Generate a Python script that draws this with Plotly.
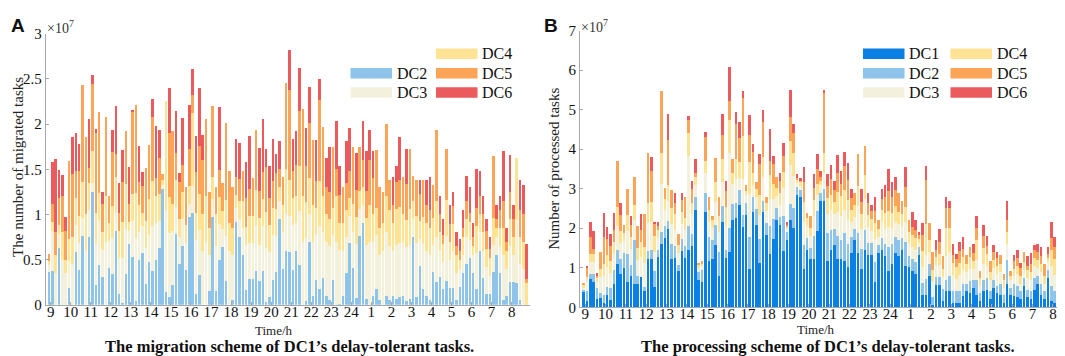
import plotly.graph_objects as go

# ---------------- data (values in units of 1e7 tasks) ----------------
hour_labels = ["9", "10", "11", "12", "13", "14", "15", "16", "17", "18", "19", "20",
               "21", "22", "23", "24", "1", "2", "3", "4", "5", "6", "7", "8"]
slots = list(range(1, 145))          # 144 ten-minute slots, 6 per hour
series_names = ["DC1", "DC2", "DC3", "DC4", "DC5", "DC6"]
series_colors = ["#0a7fe4", "#8fc4ea", "#f3f1dc", "#fee394", "#fca457", "#eb5a5c"]

# ----- Panel A: migration scheme (DC2..DC6) -----
A_DC2 = [0.36, 0.37, 0.00, 0.63, 0.00, 0.00, 0.18, 0.00, 0.58, 0.38, 0.76, 0.00,
         0.75, 1.25, 0.22, 0.44, 0.31, 0.00, 0.41, 0.34, 0.82, 0.12, 0.02, 0.34,
         0.67, 0.53, 0.04, 0.50, 0.57, 0.23, 0.47, 0.37, 0.50, 0.63, 1.28, 0.14,
         0.09, 0.22, 0.78, 0.45, 0.65, 0.38, 0.97, 1.02, 0.12, 0.33, 0.00, 0.00,
         0.15, 0.97, 0.15, 0.49, 0.64, 0.26, 0.00, 0.05, 0.92, 0.75, 0.55, 0.16,
         0.28, 0.28, 0.37, 0.26, 0.37, 0.03, 0.08, 0.27, 0.36, 0.95, 0.40, 0.60,
         0.58, 0.38, 0.60, 0.44, 0.00, 0.04, 0.70, 0.10, 0.27, 0.17, 0.30, 0.10,
         0.05, 0.27, 0.00, 0.01, 0.10, 0.35, 0.68, 0.41, 0.07, 0.76, 0.90, 0.06,
         0.00, 0.10, 0.17, 0.05, 0.00, 0.10, 0.05, 0.10, 0.06, 0.08, 0.10, 0.04,
         0.06, 0.75, 0.08, 0.43, 0.17, 0.10, 0.05, 0.36, 0.25, 0.31, 0.17, 0.26,
         0.19, 0.19, 0.05, 0.20, 0.35, 0.45, 0.52, 0.35, 0.17, 0.60, 0.30, 0.12,
         0.12, 0.36, 0.55, 0.35, 0.05, 0.10, 0.25, 0.25, 0.24, 0.05, 0.00, 0.00]
A_DC3 = [0.08, 0.45, 0.35, 0.15, 0.50, 0.35, 0.30, 0.45, 0.30, 0.30, 0.20, 0.60,
         0.30, 0.10, 0.45, 0.50, 0.30, 0.70, 0.30, 0.40, 0.20, 0.40, 0.50, 0.50,
         0.15, 0.40, 0.70, 0.30, 0.30, 0.40, 0.30, 0.50, 0.40, 0.30, 0.05, 0.90,
         0.70, 0.60, 0.30, 0.30, 0.30, 0.30, 0.15, 0.30, 0.60, 0.50, 0.60, 0.70,
         0.40, 0.20, 0.50, 0.40, 0.20, 0.50, 0.60, 0.50, 0.15, 0.20, 0.30, 0.50,
         0.40, 0.40, 0.50, 0.40, 0.50, 0.60, 0.50, 0.50, 0.40, 0.20, 0.40, 0.40,
         0.40, 0.50, 0.30, 0.60, 0.70, 0.70, 0.30, 0.60, 0.50, 0.70, 0.50, 0.60,
         0.60, 0.50, 0.70, 0.60, 0.50, 0.40, 0.30, 0.40, 0.60, 0.30, 0.20, 0.60,
         0.70, 0.60, 0.60, 0.50, 0.60, 0.70, 0.60, 0.50, 0.60, 0.60, 0.60, 0.60,
         0.60, 0.20, 0.60, 0.30, 0.50, 0.50, 0.50, 0.30, 0.50, 0.30, 0.30, 0.50,
         0.30, 0.40, 0.30, 0.20, 0.20, 0.30, 0.20, 0.20, 0.40, 0.20, 0.30, 0.30,
         0.20, 0.30, 0.20, 0.30, 0.50, 0.30, 0.40, 0.30, 0.70, 0.40, 0.40, 0.00]
A_DC4 = [0.04, 0.10, 0.20, 0.10, 0.30, 0.15, 0.25, 0.30, 0.30, 0.30, 0.40, 0.40,
         0.30, 0.35, 0.35, 0.30, 0.20, 0.50, 0.20, 0.35, 0.40, 0.30, 0.40, 0.50,
         0.10, 0.30, 0.50, 0.30, 0.15, 0.30, 0.40, 0.50, 0.30, 0.30, 0.05, 1.22,
         0.40, 0.30, 0.30, 0.20, 0.30, 0.20, 0.20, 0.80, 0.30, 0.40, 0.40, 0.50,
         0.30, 0.25, 0.35, 0.30, 0.20, 0.40, 0.30, 0.30, 0.15, 0.20, 0.30, 0.20,
         0.30, 0.30, 0.40, 0.30, 0.30, 0.40, 0.30, 0.30, 0.30, 0.15, 0.30, 0.50,
         0.40, 0.30, 0.30, 0.50, 0.50, 0.40, 0.40, 0.40, 0.30, 0.50, 0.40, 0.30,
         0.30, 0.30, 0.50, 0.30, 0.30, 0.30, 0.20, 0.30, 0.30, 0.20, 0.20, 0.30,
         0.40, 0.30, 0.30, 0.30, 0.30, 0.40, 0.40, 0.30, 0.40, 0.40, 0.30, 0.30,
         0.40, 0.20, 0.30, 0.20, 0.30, 0.30, 0.30, 0.30, 0.40, 0.20, 0.20, 0.40,
         0.20, 0.30, 0.20, 0.10, 0.20, 0.20, 0.20, 0.10, 0.30, 0.20, 0.20, 0.20,
         0.20, 0.30, 0.10, 0.20, 0.30, 0.20, 0.30, 0.20, 0.69, 0.30, 0.30, 0.24]
A_DC5 = [0.08, 0.20, 0.26, 0.30, 0.40, 0.32, 0.86, 0.70, 0.30, 0.50, 1.07, 0.86,
         0.16, 0.74, 0.88, 0.89, 0.30, 0.88, 0.29, 0.60, 0.25, 0.20, 0.44, 0.58,
         0.20, 0.90, 0.97, 0.26, 0.30, 0.58, 0.60, 0.71, 0.20, 0.40, 0.07, 0.00,
         0.71, 0.80, 0.30, 0.41, 0.30, 0.42, 0.40, 0.20, 0.45, 0.53, 0.60, 0.86,
         0.40, 0.78, 0.30, 0.30, 0.31, 0.85, 0.58, 0.45, 0.20, 0.24, 0.33, 0.32,
         0.30, 0.42, 0.66, 0.30, 0.30, 0.49, 0.30, 0.30, 0.40, 0.20, 0.32, 0.96,
         1.00, 0.30, 0.35, 0.60, 0.97, 0.40, 0.61, 0.72, 0.30, 0.90, 0.77, 0.30,
         0.30, 0.68, 0.30, 0.30, 0.40, 0.30, 0.30, 0.64, 0.30, 0.49, 0.30, 0.30,
         0.50, 0.40, 0.64, 0.45, 0.35, 0.80, 0.33, 0.20, 0.30, 0.30, 0.42, 0.40,
         0.66, 0.28, 0.40, 0.30, 0.41, 0.20, 0.20, 0.37, 0.78, 0.20, 0.10, 0.56,
         0.20, 0.20, 0.10, 0.10, 0.10, 0.20, 0.10, 0.10, 0.20, 0.20, 0.20, 0.20,
         0.10, 0.69, 0.10, 0.20, 0.30, 0.10, 0.30, 0.20, 0.00, 0.30, 0.30, 0.05]
A_DC6 = [0.00, 0.46, 0.80, 0.31, 0.24, 0.15, 0.00, 0.41, 0.42, 0.30, 0.00, 0.00,
         0.55, 0.10, 0.05, 0.00, 0.14, 0.00, 0.00, 0.25, 0.53, 0.33, 0.35, 0.00,
         0.40, 0.03, 0.00, 0.40, 0.15, 0.00, 0.00, 0.20, 0.58, 0.31, 0.00, 0.00,
         0.50, 0.00, 0.47, 0.10, 0.52, 0.00, 0.49, 0.29, 0.40, 0.64, 0.28, 0.00,
         0.00, 0.00, 0.00, 0.70, 0.00, 0.00, 0.00, 0.00, 0.42, 0.40, 0.00, 0.40,
         0.59, 0.00, 0.00, 0.48, 0.59, 0.20, 0.36, 0.47, 0.21, 0.31, 0.00, 0.00,
         0.44, 0.35, 0.37, 0.48, 0.00, 0.42, 0.40, 0.00, 0.45, 0.23, 0.00, 0.32,
         0.50, 0.00, 0.54, 0.33, 0.00, 0.46, 0.48, 0.00, 0.41, 0.00, 0.43, 0.44,
         0.33, 0.30, 0.00, 0.00, 0.00, 0.00, 0.00, 0.32, 0.18, 0.48, 0.00, 0.38,
         0.00, 0.00, 0.00, 0.15, 0.00, 0.28, 0.37, 0.00, 0.00, 0.19, 0.18, 0.00,
         0.21, 0.16, 0.15, 0.13, 0.20, 0.28, 0.28, 0.15, 0.43, 0.28, 0.20, 0.13,
         0.13, 0.00, 0.15, 0.15, 0.55, 0.15, 0.41, 0.15, 0.00, 0.33, 0.33, 0.38]

# ----- Panel B: processing scheme (DC1..DC6) -----
B_DC1 = [0.42, 0.16, 0.72, 0.64, 0.20, 0.24, 0.10, 0.32, 0.18, 0.60, 1.10, 0.83,
         1.00, 0.64, 0.78, 0.60, 0.58, 0.76, 0.42, 1.23, 1.21, 0.51, 1.27, 1.61,
         1.75, 1.99, 1.21, 1.25, 0.93, 1.42, 1.25, 1.46, 1.55, 2.45, 0.70, 0.64,
         2.40, 1.17, 1.21, 1.57, 0.80, 2.16, 1.25, 1.41, 2.21, 2.25, 2.58, 2.04,
         2.33, 0.97, 2.40, 2.09, 1.13, 2.40, 1.83, 1.35, 1.73, 2.21, 2.09, 1.42,
         1.70, 2.21, 2.01, 2.84, 2.78, 0.97, 1.45, 1.21, 1.21, 1.93, 2.70, 2.70,
         1.17, 1.45, 1.57, 1.21, 1.21, 1.17, 1.01, 1.37, 1.69, 1.37, 0.97, 1.45,
         1.33, 1.33, 0.64, 1.37, 1.45, 1.29, 0.93, 1.09, 1.37, 1.30, 1.45, 1.05,
         1.01, 0.93, 0.85, 1.33, 0.32, 0.32, 0.80, 0.05, 0.56, 0.56, 0.16, 0.40,
         0.40, 0.12, 0.12, 0.12, 0.28, 0.40, 0.36, 0.48, 0.30, 0.15, 0.40, 0.45,
         0.20, 0.50, 0.35, 0.30, 0.10, 0.60, 0.30, 0.28, 0.25, 0.20, 0.55, 0.25,
         0.20, 0.45, 0.60, 0.30, 0.20, 0.75, 0.15, 0.12, 0.35, 0.05, 0.35, 0.10]
B_DC2 = [0.05, 0.25, 0.13, 0.20, 0.30, 0.12, 0.20, 0.20, 0.30, 0.35, 0.35, 0.40,
         0.37, 0.70, 0.30, 1.10, 0.22, 0.00, 0.10, 0.20, 0.25, 0.40, 0.18, 0.30,
         0.30, 0.20, 0.40, 0.30, 0.15, 0.30, 0.30, 0.60, 0.30, 0.35, 0.20, 0.30,
         0.50, 0.60, 0.50, 0.50, 0.60, 0.40, 0.20, 0.60, 0.40, 0.40, 0.40, 0.30,
         0.30, 0.80, 0.40, 0.40, 0.60, 0.30, 0.30, 0.70, 0.50, 0.30, 0.20, 0.90,
         0.20, 0.40, 0.50, 0.20, 0.20, 0.60, 0.30, 0.30, 0.60, 0.50, 0.20, 0.30,
         0.70, 0.50, 0.40, 0.60, 0.50, 0.70, 0.60, 0.40, 0.30, 0.50, 0.50, 0.50,
         0.30, 0.30, 0.50, 0.20, 0.30, 0.30, 0.60, 0.50, 0.40, 0.40, 0.30, 0.60,
         0.30, 0.30, 0.30, 0.20, 0.30, 0.40, 0.30, 0.20, 0.20, 0.20, 0.30, 0.30,
         0.40, 0.30, 0.30, 0.30, 0.30, 0.20, 0.30, 0.20, 0.40, 0.20, 0.30, 0.30,
         0.20, 0.20, 0.20, 0.30, 0.20, 0.60, 0.20, 0.30, 0.30, 0.20, 0.20, 0.20,
         0.20, 0.30, 0.20, 0.30, 0.20, 0.20, 0.40, 0.30, 0.30, 0.20, 0.10, 0.20]
B_DC3 = [0.05, 0.25, 0.30, 0.30, 0.15, 0.40, 0.50, 0.50, 0.40, 0.40, 0.60, 0.40,
         0.30, 0.60, 0.40, 0.50, 0.40, 0.50, 0.60, 0.70, 0.70, 0.50, 0.30, 1.20,
         0.40, 0.50, 0.50, 0.40, 0.30, 0.40, 0.40, 1.76, 0.50, 0.30, 0.10, 0.10,
         0.50, 0.40, 0.30, 0.60, 0.50, 0.60, 0.60, 1.89, 0.50, 0.60, 0.30, 0.90,
         0.20, 1.10, 0.30, 0.30, 0.60, 0.60, 0.30, 0.70, 0.50, 0.30, 0.30, 0.70,
         0.10, 1.00, 0.80, 0.10, 0.10, 0.60, 0.30, 0.30, 0.50, 0.40, 0.20, 0.40,
         0.50, 0.50, 0.40, 0.60, 0.60, 0.60, 0.60, 0.40, 0.30, 0.70, 0.50, 0.80,
         0.40, 0.30, 0.60, 0.20, 0.40, 0.40, 0.50, 0.40, 0.40, 0.40, 0.30, 0.50,
         0.30, 0.30, 0.30, 0.10, 0.40, 0.60, 0.30, 0.40, 0.30, 0.30, 0.30, 0.60,
         0.60, 0.40, 0.30, 0.40, 0.40, 0.30, 0.30, 0.30, 0.50, 0.20, 0.40, 0.30,
         0.30, 0.30, 0.30, 0.30, 0.20, 0.40, 0.20, 0.20, 0.30, 0.20, 0.20, 0.30,
         0.30, 0.30, 0.20, 0.30, 0.20, 0.20, 0.50, 0.40, 0.70, 0.30, 0.10, 0.30]
B_DC4 = [0.04, 0.10, 0.20, 0.20, 0.10, 0.20, 0.30, 0.30, 0.30, 0.30, 0.50, 0.30,
         0.20, 0.40, 0.30, 0.40, 0.30, 0.40, 0.40, 0.50, 0.50, 0.40, 0.20, 0.80,
         0.30, 0.40, 0.40, 0.40, 0.20, 0.30, 0.30, 0.60, 0.30, 0.20, 0.08, 0.08,
         0.30, 0.30, 0.20, 0.50, 0.40, 0.60, 0.50, 0.85, 0.30, 0.50, 0.40, 1.10,
         0.10, 0.80, 0.30, 0.20, 0.50, 0.50, 0.20, 0.60, 0.40, 0.20, 0.30, 0.40,
         0.05, 0.60, 0.60, 0.10, 0.10, 0.50, 0.20, 0.20, 0.40, 0.30, 0.10, 0.50,
         0.40, 0.40, 0.30, 0.50, 0.50, 0.50, 0.50, 0.30, 0.30, 0.50, 0.40, 0.60,
         0.30, 0.30, 0.40, 0.20, 0.30, 0.40, 0.40, 0.40, 0.40, 0.30, 0.30, 0.40,
         0.30, 0.30, 0.30, 0.10, 0.40, 0.80, 0.30, 0.30, 0.20, 0.30, 0.20, 0.70,
         0.60, 0.30, 0.30, 0.30, 0.30, 0.20, 0.30, 0.20, 0.50, 0.20, 0.40, 0.30,
         0.20, 0.20, 0.20, 0.20, 0.20, 0.30, 0.10, 0.20, 0.20, 0.20, 0.20, 0.20,
         0.20, 0.20, 0.20, 0.20, 0.20, 0.10, 0.40, 0.40, 1.35, 0.30, 0.10, 0.30]
B_DC5 = [0.06, 0.25, 0.42, 0.14, 0.07, 0.45, 0.68, 0.40, 0.37, 0.30, 1.14, 0.40,
         0.22, 0.66, 0.30, 0.70, 0.55, 0.30, 0.83, 1.27, 0.80, 0.30, 0.10, 1.55,
         0.27, 1.15, 0.47, 0.30, 0.27, 0.30, 0.53, 0.33, 0.35, 0.10, 0.05, 0.05,
         0.60, 0.31, 0.09, 0.60, 0.48, 0.60, 0.40, 0.47, 0.33, 0.90, 0.60, 0.95,
         0.17, 0.69, 0.52, 0.19, 0.80, 0.90, 0.15, 0.36, 0.49, 0.29, 0.30, 0.40,
         0.02, 0.60, 0.50, 0.04, 0.04, 0.50, 0.13, 0.29, 0.30, 0.36, 0.10, 1.55,
         0.30, 0.40, 0.30, 0.50, 0.30, 0.60, 0.50, 0.30, 0.31, 0.82, 0.30, 0.72,
         0.30, 0.20, 0.30, 0.23, 0.30, 0.40, 0.50, 0.40, 0.40, 0.50, 0.35, 0.50,
         0.29, 0.20, 0.20, 0.10, 0.40, 1.10, 0.43, 0.45, 0.20, 0.30, 0.33, 0.50,
         0.50, 0.20, 0.20, 0.30, 0.20, 0.23, 0.27, 0.20, 0.30, 0.18, 0.30, 0.20,
         0.27, 0.20, 0.20, 0.23, 0.15, 0.30, 0.13, 0.20, 0.20, 0.20, 0.26, 0.10,
         0.20, 0.20, 0.20, 0.20, 0.29, 0.10, 0.30, 0.30, 0.00, 0.20, 0.10, 0.20]
B_DC6 = [0.00, 0.04, 0.40, 0.45, 0.05, 0.00, 0.60, 0.32, 0.30, 0.43, 0.00, 0.30,
         0.00, 0.00, 0.22, 0.00, 0.00, 0.40, 0.00, 0.00, 0.34, 0.06, 0.10, 0.00,
         0.00, 0.66, 0.00, 0.25, 0.00, 0.18, 0.00, 0.08, 0.20, 0.34, 0.00, 0.00,
         0.14, 0.00, 0.00, 0.00, 0.00, 0.54, 0.25, 0.87, 0.00, 0.30, 0.41, 0.17,
         0.00, 0.50, 0.20, 0.00, 0.25, 0.29, 0.00, 0.80, 0.20, 0.00, 0.22, 0.33,
         0.10, 0.68, 0.24, 0.10, 0.04, 0.37, 0.00, 0.00, 0.36, 0.40, 0.16, 0.04,
         0.30, 0.36, 0.23, 0.45, 0.35, 0.36, 0.45, 0.23, 0.00, 0.00, 0.33, 0.00,
         0.27, 0.17, 0.36, 0.00, 0.25, 0.31, 0.57, 0.39, 0.33, 0.00, 0.00, 0.49,
         0.00, 0.39, 0.26, 0.07, 0.31, 0.36, 0.00, 0.00, 0.23, 0.31, 0.00, 0.28,
         0.20, 0.29, 0.13, 0.23, 0.29, 0.00, 0.00, 0.23, 0.30, 0.00, 0.29, 0.26,
         0.00, 0.17, 0.16, 0.00, 0.00, 0.50, 0.00, 0.15, 0.20, 0.13, 0.00, 0.24,
         0.27, 0.12, 0.21, 0.23, 0.00, 0.18, 0.42, 0.25, 0.00, 0.28, 0.14, 0.19]

panel_A = [None, A_DC2, A_DC3, A_DC4, A_DC5, A_DC6]
panel_B = [B_DC1, B_DC2, B_DC3, B_DC4, B_DC5, B_DC6]

W, H = 1065, 356
def px(x):
    return x / W
def py(y):
    return 1 - y / H

FONT = "Liberation Serif, Times New Roman, serif"

fig = go.Figure()
for name, color, a_vals, b_vals in zip(series_names, series_colors, panel_A, panel_B):
    if a_vals is not None:
        fig.add_trace(go.Bar(x=slots, y=a_vals, name=name, marker=dict(color=color, line=dict(width=0)),
                             xaxis="x", yaxis="y", showlegend=False))
    fig.add_trace(go.Bar(x=slots, y=b_vals, name=name, marker=dict(color=color, line=dict(width=0)),
                         xaxis="x2", yaxis="y2", showlegend=False))

tickvals = [1.5 + 6 * i for i in range(len(hour_labels))]
axis_common = dict(showline=True, linecolor="#a8a8a8", linewidth=1, ticks="inside", ticklen=3,
                   tickcolor="#a8a8a8", showgrid=False, zeroline=False,
                   tickfont=dict(family=FONT, size=15, color="#111"))
xaxis_extra = dict(ticklabelstandoff=-7)

fig.update_layout(
    width=W, height=H, margin=dict(l=0, r=0, t=0, b=0),
    paper_bgcolor="white", plot_bgcolor="white",
    barmode="stack", bargap=0.25, showlegend=False,
    font=dict(family=FONT, color="#111"),
    xaxis=dict(domain=[px(37.7), px(522)], range=[0, 145], tickvals=tickvals, ticktext=hour_labels,
               anchor="y", **axis_common, **xaxis_extra),
    yaxis=dict(domain=[py(302.3), py(18.7)], range=[0, 3], tickvals=[0, 0.5, 1, 1.5, 2, 2.5, 3],
               ticktext=["0", "0.5", "1", "1.5", "2", "2.5", "3"], anchor="x", **axis_common),
    xaxis2=dict(domain=[px(572.1), px(1063.6)], range=[0, 145], tickvals=tickvals, ticktext=hour_labels,
                anchor="y2", **axis_common, **xaxis_extra),
    yaxis2=dict(domain=[py(305), py(15.3)], range=[0, 7], tickvals=[0, 1, 2, 3, 4, 5, 6, 7],
                anchor="x2", **axis_common),
)

ann = []
# panel letters
ann.append(dict(text="<b>A</b>", x=px(1), y=py(10), xanchor="left", yanchor="middle",
                font=dict(family="Liberation Sans, Arial", size=19, color="#111")))
ann.append(dict(text="<b>B</b>", x=px(534), y=py(10), xanchor="left", yanchor="middle",
                font=dict(family="Liberation Sans, Arial", size=19, color="#111")))
# exponent labels
ann.append(dict(text="×10<sup>7</sup>", x=px(37), y=py(12), xanchor="left", yanchor="middle",
                font=dict(family=FONT, size=14, color="#333")))
ann.append(dict(text="×10<sup>7</sup>", x=px(571), y=py(10), xanchor="left", yanchor="middle",
                font=dict(family=FONT, size=14, color="#333")))
# axis titles
ann.append(dict(text="Time/h", x=px(266), y=py(329), xanchor="center", yanchor="middle",
                font=dict(family=FONT, size=13, color="#222")))
ann.append(dict(text="Time/h", x=px(808), y=py(328), xanchor="center", yanchor="middle",
                font=dict(family=FONT, size=13, color="#222")))
ann.append(dict(text="The number of migrated tasks", x=px(10), y=py(158), textangle=-90,
                xanchor="center", yanchor="middle", font=dict(family=FONT, size=15, color="#222")))
ann.append(dict(text="Number of processed tasks", x=px(546), y=py(160), textangle=-90,
                xanchor="center", yanchor="middle", font=dict(family=FONT, size=15, color="#222")))
# captions
ann.append(dict(text="<b>The migration scheme of DC1’s delay-tolerant tasks.</b>", x=px(281), y=py(346),
                xanchor="center", yanchor="middle", font=dict(family=FONT, size=16.5, color="#111")))
ann.append(dict(text="<b>The processing scheme of DC1’s delay-tolerant tasks.</b>", x=px(820), y=py(346),
                xanchor="center", yanchor="middle", font=dict(family=FONT, size=16.5, color="#111")))

# two-column legends drawn in paper coordinates (column-major like the original)
shapes = []
row_y = [39.5, 60, 80]
legend_specs = [
    ((342.5, 428.0), [1, 2, 3, 4, 5]),
    ((855.0, 942.5), [0, 1, 2, 3, 4, 5]),
]
for (c1, c2), idxs in legend_specs:
    for i in idxs:
        col = 0 if i < 3 else 1
        row = i % 3
        x0 = c1 if col == 0 else c2
        yc = row_y[row]
        shapes.append(dict(type="rect", xref="paper", yref="paper", x0=px(x0), x1=px(x0 + 41.5),
                           y0=py(yc + 5.5), y1=py(yc - 5.5), fillcolor=series_colors[i],
                           line=dict(width=0)))
        ann.append(dict(text=series_names[i], x=px(x0 + 44), y=py(yc), xanchor="left", yanchor="middle",
                        font=dict(family=FONT, size=16, color="#111")))

for a in ann:
    a.update(xref="paper", yref="paper", showarrow=False)
fig.update_layout(annotations=ann, shapes=shapes)

fig.write_html("out.html")
